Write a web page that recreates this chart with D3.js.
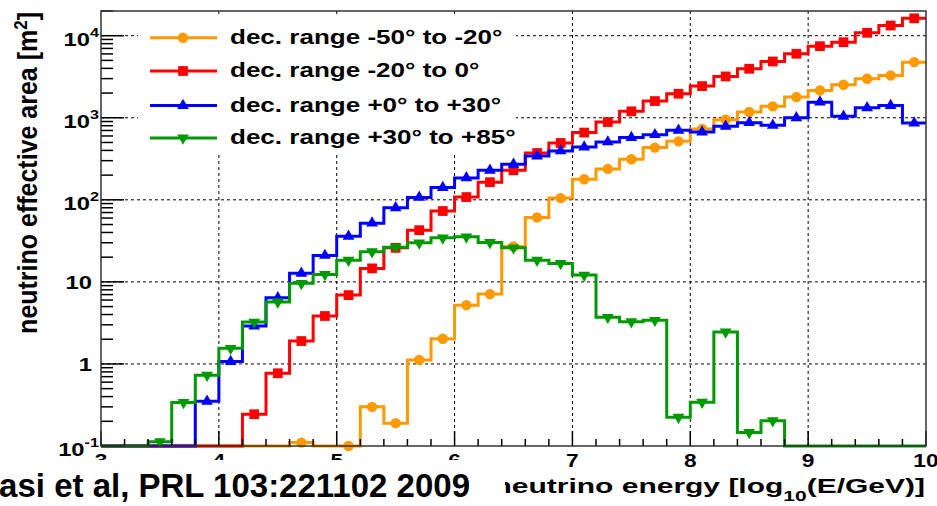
<!DOCTYPE html>
<html>
<head>
<meta charset="utf-8">
<script src="https://cdn.jsdelivr.net/npm/d3@7"></script>
<style>
  body { margin: 0; background: #fff; }
  svg { display: block; font-family: "Liberation Sans", Arial, Helvetica, sans-serif; font-weight: bold; }
</style>
</head>
<body>
<svg width="937" height="506"></svg>
<script>
// bin edges: 0.2 wide from 3 to 10 (log10 E/GeV)
const binLow = d3.range(35).map(i => +(3 + i * 0.2).toFixed(1));
const binWidth = 0.2;

// effective area per bin [m^2], 0 = empty bin
const orange = [0,0,0,0,0,0,0,0,0.11,0,0.1,0.30,0.19,1.12,2.03,5.2,7.1,27,61,105,178,238,312,433,516,729,948,1174,1377,1787,2155,2528,2991,3280,4760];
const red    = [0,0,0,0,0,0,0.244,0.77,1.9,3.84,6.9,14.6,26,42.7,73,108,164,229,372,493,660,887,1197,1597,1963,2431,3190,3957,4853,6025,7460,8340,10850,13300,16300];
const blue   = [0,0,0,0,0.35,1.07,2.9,6.4,12.7,21,36,52,80,107,141,185,229,271,342,394,440,507,573,622,703,670,786,871,809,1000,1550,1040,1320,1410,863];
const green  = [0,0,0.113,0.34,0.73,1.55,3.24,5.7,9.6,12.3,18.4,23.3,26.5,29.9,34.4,35.4,30.2,26,18.4,16.8,12.1,3.7,3.27,3.4,0.224,0.342,2.45,0.146,0.203,0,0,0,0,0,0];

const seriesNames = ["dec. range -50\u00b0 to -20\u00b0", "dec. range -20\u00b0 to 0\u00b0", "dec. range +0\u00b0 to +30\u00b0", "dec. range +30\u00b0 to +85\u00b0"];
const seriesValues = [orange, red, blue, green];
const seriesColors = ["#ff9900", "#ff0000", "#0000ff", "#009900"];
const seriesMarkers = ["circle", "square", "triangle", "invtriangle"];

const xTicks = [3, 4, 5, 6, 7, 8, 9, 10];
const yDecades = [-1, 0, 1, 2, 3, 4];

var svg = d3.select("svg");
var mL = 101, mR = 926, mT = 11, mB = 446;

var x = d3.scaleLinear().domain([3, 10]).range([mL, mR]);
var y = d3.scaleLog().domain([0.1, 2e4]).range([mB, mT]);
var yv = v => (v > 0.1 ? y(v) : mB);

// the original picture is stretched sideways, so texts get a horizontal scale
function stretched(parent, px, py, size, anchor, sx) {
  return parent.append("text")
    .attr("transform", "translate(" + px + "," + py + ") scale(" + sx + ",1)")
    .attr("text-anchor", anchor).attr("font-size", size);
}

// grid
var grid = svg.append("g").attr("stroke", "#000").attr("stroke-width", 1).attr("stroke-dasharray", "3,3");
grid.selectAll("line.gx").data(xTicks.slice(1, -1)).enter().append("line")
  .attr("x1", d => x(d)).attr("x2", d => x(d)).attr("y1", mT).attr("y2", mB);
grid.selectAll("line.gy").data(yDecades.slice(1)).enter().append("line")
  .attr("x1", mL).attr("x2", mR).attr("y1", d => y(Math.pow(10, d))).attr("y2", d => y(Math.pow(10, d)));

// histograms drawn as steps
var line = d3.line().x(d => x(d[0])).y(d => yv(d[1])).curve(d3.curveStepAfter);
var sym = {
  circle: d3.symbol().type(d3.symbolCircle).size(85),
  square: d3.symbol().type(d3.symbolSquare).size(95),
  triangle: d3.symbol().type(d3.symbolTriangle).size(60),
  invtriangle: d3.symbol().type(d3.symbolTriangle).size(60)
};
var markerRot = { circle: 0, square: 0, triangle: 0, invtriangle: 180 };

seriesValues.forEach(function(vals, k) {
  var pts = binLow.map((b, i) => [b, vals[i]]);
  pts.push([10, vals[vals.length - 1]]);
  svg.append("path").datum(pts)
    .attr("d", line).attr("fill", "none")
    .attr("stroke", seriesColors[k]).attr("stroke-width", 3);
  svg.append("g").selectAll("path")
    .data(binLow.map((b, i) => ({ x: b + binWidth / 2, v: vals[i] })).filter(d => d.v > 0))
    .enter().append("path")
    .attr("d", sym[seriesMarkers[k]])
    .attr("fill", seriesColors[k])
    .attr("transform", d => "translate(" + x(d.x) + "," + yv(d.v) + ") rotate(" + markerRot[seriesMarkers[k]] + ")");
});

// axis ticks
var ticks = svg.append("g").attr("stroke", "#000").attr("stroke-width", 1.5);
d3.range(3, 10.01, 0.2).forEach(function(t) {
  var major = Math.abs(t - Math.round(t)) < 1e-6;
  ticks.append("line").attr("x1", x(t)).attr("x2", x(t)).attr("y1", mB).attr("y2", mB - (major ? 15 : 7));
});
yDecades.forEach(function(d) {
  var mult = d < 4 ? d3.range(2, 10) : [2];
  mult.forEach(function(m) {
    var yy = y(m * Math.pow(10, d));
    ticks.append("line").attr("x1", mL).attr("x2", mL + 12).attr("y1", yy).attr("y2", yy);
  });
  var yy = y(Math.pow(10, d));
  ticks.append("line").attr("x1", mL).attr("x2", mL + 23).attr("y1", yy).attr("y2", yy);
});

// frame
svg.append("rect").attr("x", mL).attr("y", mT).attr("width", mR - mL).attr("height", mB - mT)
  .attr("fill", "none").attr("stroke", "#333").attr("stroke-width", 1.5);

// tick labels
xTicks.forEach(function(d) {
  stretched(svg, x(d), 467, 17.5, "middle", 1.3).text(d);
});

yDecades.forEach(function(d) {
  var yy = y(Math.pow(10, d));
  if (d === 0 || d === 1) {
    stretched(svg, 92, yy + 7, 19, "end", 1.25).text(Math.pow(10, d));
  } else {
    var t = stretched(svg, 99, yy + 10, 19, "end", 1.25);
    t.append("tspan").text("10");
    t.append("tspan").attr("dy", -9).attr("font-size", 13).text(d);
  }
});

// axis titles
svg.append("text").attr("transform", "translate(37,12) scale(1.1,1) rotate(-90)")
  .attr("text-anchor", "end").attr("font-size", 25)
  .call(t => {
    t.append("tspan").text("neutrino effective area [m");
    t.append("tspan").attr("dy", -9).attr("font-size", 17).text("2");
    t.append("tspan").attr("dy", 9).text("]");
  });

var xt = stretched(svg, 925, 493, 20, "end", 1.5);
xt.append("tspan").text("neutrino energy [log");
xt.append("tspan").attr("dy", 8).attr("font-size", 14).text("10");
xt.append("tspan").attr("dy", -8).text("(E/GeV)]");

// reference banner over the lower left
svg.append("rect").attr("x", 0).attr("y", 460).attr("width", 505).attr("height", 46).attr("fill", "#fff");
stretched(svg, 470, 497, 33, "end", 1.0).text("Abbasi et al, PRL 103:221102 2009");

// legend
var legend = svg.append("g");
legend.append("rect").attr("x", 138).attr("y", 17).attr("width", 378).attr("height", 138).attr("fill", "#fff");
var rowY = [37.7, 71, 105.5, 138];
seriesNames.forEach(function(name, k) {
  var g = legend.append("g").attr("transform", "translate(0," + rowY[k] + ")");
  g.append("line").attr("x1", 150).attr("x2", 217).attr("stroke", seriesColors[k]).attr("stroke-width", 3);
  g.append("path").attr("d", sym[seriesMarkers[k]]).attr("fill", seriesColors[k])
    .attr("transform", "translate(183,0) rotate(" + markerRot[seriesMarkers[k]] + ")");
  stretched(g, 230, 6, 21, "start", 1.24).text(name);
});
</script>
</body>
</html>
